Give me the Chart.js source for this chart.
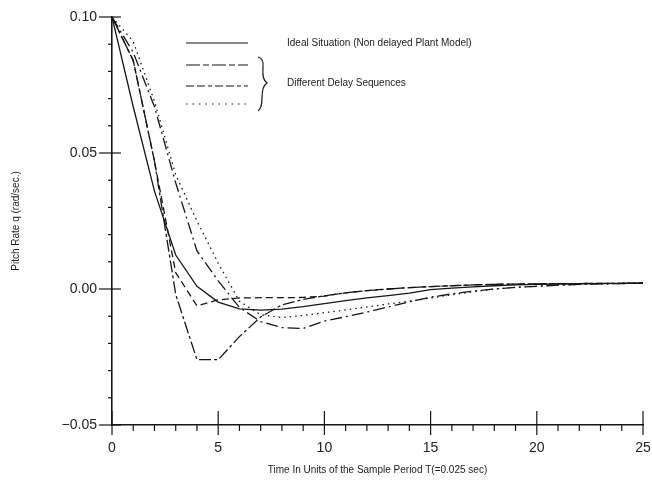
<!DOCTYPE html>
<html>
<head>
<meta charset="utf-8">
<script src="https://cdn.jsdelivr.net/npm/chart.js@4.4.1/dist/chart.umd.min.js"></script>
<style>
    html, body { margin: 0; padding: 0; background: #fff; }
    #wrap { width: 652px; height: 481px; }
</style>
</head>
<body>
<div id="wrap"><canvas id="myChart" width="652" height="481"></canvas></div>
<script>
// sample index (units of T = 0.025 sec)
const timeSteps = [0, 1, 2, 3, 4, 5, 6, 7, 8, 9, 10, 11, 12, 13, 14, 15, 16, 17, 18, 19, 20, 21, 22, 23, 24, 25];

// pitch rate q (rad/sec)
const idealRate = [0.100, 0.067, 0.036, 0.0125, 0.001, -0.0048, -0.0073, -0.0078, -0.0074, -0.0065, -0.0054, -0.0043, -0.0033, -0.0024, -0.0015, -0.0002, 0.0003, 0.0008, 0.0012, 0.0015, 0.0017, 0.0018, 0.0019, 0.0020, 0.0021, 0.0022];
const delayRateA = [0.100, 0.084, 0.047, -0.002, -0.026, -0.026, -0.0175, -0.0103, -0.0058, -0.0038, -0.0025, -0.0014, -0.0006, 0.0, 0.0005, 0.0009, 0.0012, 0.0015, 0.0017, 0.0018, 0.0019, 0.0020, 0.0020, 0.0021, 0.0021, 0.0022];
const delayRateB = [0.100, 0.084, 0.047, 0.006, -0.0062, -0.0040, -0.0033, -0.0032, -0.0032, -0.0031, -0.0026, -0.0014, -0.0006, 0.0, 0.0005, 0.0009, 0.0012, 0.0015, 0.0017, 0.0018, 0.0019, 0.0020, 0.0020, 0.0021, 0.0021, 0.0022];
const delayRateC = [0.100, 0.087, 0.067, 0.039, 0.014, 0.003, -0.0068, -0.012, -0.0142, -0.0145, -0.0118, -0.0102, -0.0085, -0.0066, -0.0047, -0.0030, -0.0018, -0.0008, 0.0, 0.0006, 0.0010, 0.0014, 0.0017, 0.0019, 0.0020, 0.0021];
const delayRateD = [0.100, 0.091, 0.069, 0.042, 0.025, 0.0095, -0.0045, -0.0095, -0.0105, -0.0097, -0.0087, -0.0077, -0.0066, -0.0055, -0.0045, -0.0033, -0.0021, -0.0010, 0.0, 0.0006, 0.0010, 0.0014, 0.0017, 0.0019, 0.0020, 0.0021];

// y tick labels, keyed by hundredths
const yLabels = { '10': '0.10', '5': '0.05', '0': '0.00', '-5': '\u22120.05' };

const legendLabels = ['Ideal Situation (Non delayed Plant Model)', 'Different Delay Sequences'];

const FONT = '"Liberation Sans", Arial, sans-serif';
const INK = '#161616';

function toPoints(values) {
    return timeSteps.map((t, i) => ({ x: t, y: values[i] }));
}

function lineSet(label, values, dash) {
    return {
        label: label,
        data: toPoints(values),
        borderColor: INK,
        borderWidth: 1.3,
        borderDash: dash,
        pointRadius: 0,
        tension: 0,
        fill: false
    };
}

// hand drawn style tick marks
const tickMarks = {
    id: 'tickMarks',
    afterDraw(chart) {
        const ctx = chart.ctx;
        const area = chart.chartArea;
        const xs = chart.scales.x;
        const ys = chart.scales.y;
        ctx.save();
        ctx.strokeStyle = INK;
        ctx.lineWidth = 1.2;
        xs.ticks.forEach(t => {
            const px = xs.getPixelForValue(t.value);
            const major = Math.round(t.value) % 5 === 0;
            ctx.beginPath();
            ctx.moveTo(px, area.bottom + (major ? 10 : 6));
            ctx.lineTo(px, area.bottom - (major ? 14 : 0));
            ctx.stroke();
        });
        ys.ticks.forEach(t => {
            const py = ys.getPixelForValue(t.value);
            const major = Math.round(t.value * 100) % 5 === 0;
            ctx.beginPath();
            ctx.moveTo(area.left - (major ? 13 : 4), py);
            ctx.lineTo(area.left + (major ? 9 : 0), py);
            ctx.stroke();
        });
        ctx.restore();
    }
};

// legend with brace, as in the original figure
const figureLegend = {
    id: 'figureLegend',
    afterDraw(chart) {
        const ctx = chart.ctx;
        const x0 = 186, x1 = 248;
        const rows = [
            { y: 43, dash: [] },
            { y: 65, dash: [14, 3, 6, 3] },
            { y: 86, dash: [8, 3, 8, 3, 4, 3] },
            { y: 104, dash: [1.5, 5] }
        ];
        ctx.save();
        ctx.strokeStyle = INK;
        ctx.lineWidth = 1.2;
        rows.forEach(r => {
            ctx.setLineDash(r.dash);
            ctx.beginPath();
            ctx.moveTo(x0, r.y);
            ctx.lineTo(x1, r.y);
            ctx.stroke();
        });
        ctx.setLineDash([]);
        // brace
        ctx.beginPath();
        ctx.moveTo(258, 57);
        ctx.quadraticCurveTo(264, 58, 263, 68);
        ctx.quadraticCurveTo(262, 80, 267, 83);
        ctx.quadraticCurveTo(262, 86, 262, 98);
        ctx.quadraticCurveTo(262, 108, 258, 111);
        ctx.stroke();
        ctx.fillStyle = '#222';
        ctx.font = '10px ' + FONT;
        ctx.textBaseline = 'middle';
        ctx.fillText(legendLabels[0], 287, 43);
        ctx.fillText(legendLabels[1], 287, 83);
        ctx.restore();
    }
};

const data = {
    datasets: [
        lineSet('Ideal Situation (Non delayed Plant Model)', idealRate, []),
        lineSet('Delay Sequence A', delayRateA, [12, 3, 3, 3]),
        lineSet('Delay Sequence B', delayRateB, [7, 4]),
        lineSet('Delay Sequence C', delayRateC, [12, 4, 2, 4]),
        lineSet('Delay Sequence D', delayRateD, [1.5, 4])
    ]
};

const config = {
    type: 'line',
    data: data,
    options: {
        responsive: false,
        animation: false,
        devicePixelRatio: 1,
        layout: { padding: { top: 17, right: 9, left: 0, bottom: 0 } },
        plugins: {
            legend: { display: false },
            tooltip: { enabled: false }
        },
        scales: {
            x: {
                type: 'linear',
                min: 0,
                max: 25,
                afterFit: scale => {
                    scale.height = 56;
                    scale.paddingLeft = 0;
                    scale.paddingRight = 0;
                },
                ticks: {
                    stepSize: 1,
                    autoSkip: false,
                    maxRotation: 0,
                    padding: 15,
                    color: '#222',
                    font: { family: FONT, size: 14 },
                    callback: v => (Math.round(v) % 5 === 0 ? String(Math.round(v)) : '')
                },
                grid: { drawOnChartArea: false, drawTicks: false },
                border: { display: true, color: INK, width: 1.4 },
                title: {
                    display: true,
                    text: 'Time In Units of the Sample Period T(=0.025 sec)',
                    color: '#222',
                    font: { family: FONT, size: 10 },
                    padding: { top: 0, bottom: 5 }
                }
            },
            y: {
                min: -0.05,
                max: 0.10,
                afterFit: scale => {
                    scale.width = 112;
                    scale.paddingTop = 0;
                    scale.paddingBottom = 0;
                },
                ticks: {
                    stepSize: 0.01,
                    autoSkip: false,
                    padding: 15,
                    color: '#222',
                    font: { family: FONT, size: 14 },
                    callback: v => {
                        const k = Math.round(v * 100);
                        return k % 5 === 0 ? yLabels[String(k)] : '';
                    }
                },
                grid: { drawOnChartArea: false, drawTicks: false },
                border: { display: true, color: INK, width: 1.6 },
                title: {
                    display: true,
                    text: 'Pitch Rate q (rad/sec.)',
                    color: '#222',
                    font: { family: FONT, size: 10 },
                    padding: { top: 10, bottom: 0 }
                }
            }
        }
    },
    plugins: [tickMarks, figureLegend]
};

new Chart(document.getElementById('myChart'), config);
</script>
</body>
</html>
